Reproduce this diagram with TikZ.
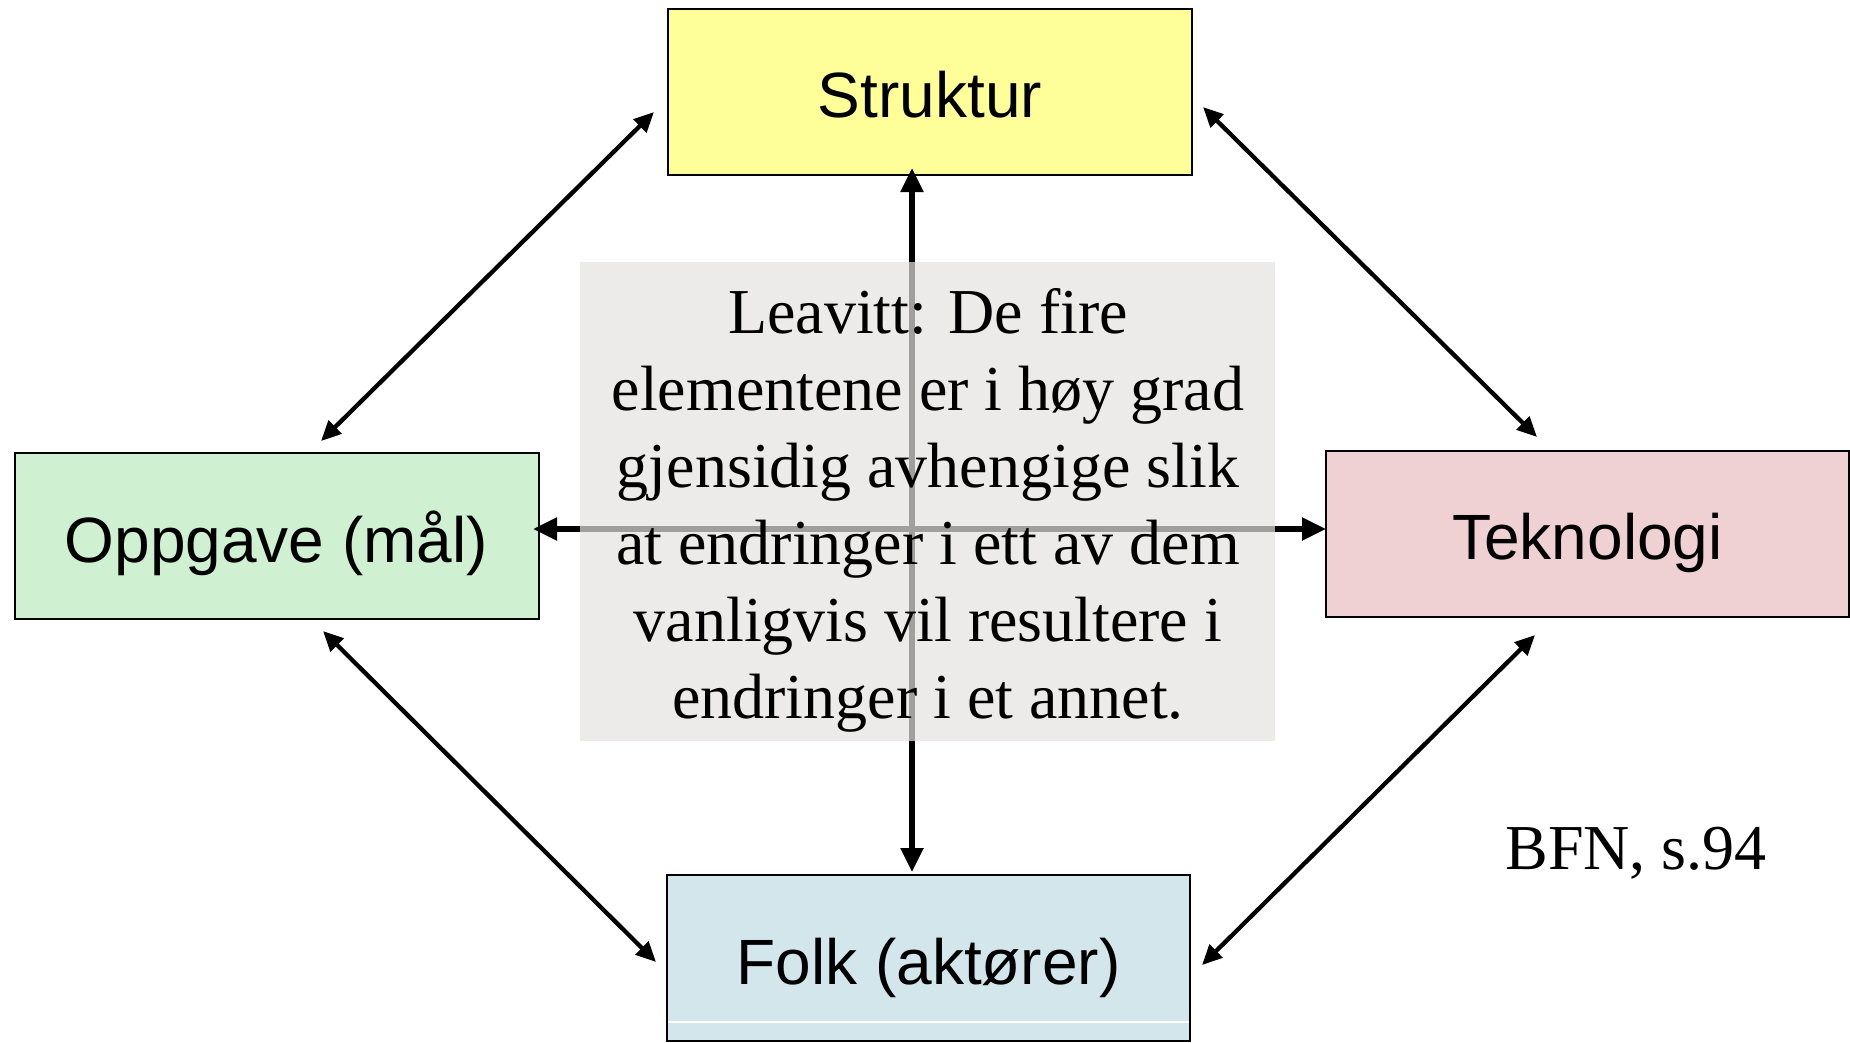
\documentclass[tikz,border=0pt]{standalone}
\usepackage{fontspec}
\setmainfont{Liberation Serif}
\newfontfamily\arialf{Liberation Sans}
\usetikzlibrary{arrows.meta}
\definecolor{cyel}{HTML}{FFFF99}
\definecolor{cgreen}{HTML}{D0F0D2}
\definecolor{cpink}{HTML}{EFD1D4}
\definecolor{cblue}{HTML}{D2E6EC}
\definecolor{cgray}{HTML}{E6E3E0}
\newcommand{\boxlabel}[1]{\raisebox{-26pt}[0pt][0pt]{#1}}
\begin{document}
\begin{tikzpicture}[x=1pt,y=-1pt,
  elbox/.style={draw=black, line width=2pt, minimum width=524pt, minimum height=166pt, inner sep=0pt,
    font=\arialf\fontsize{64}{77}\selectfont},
  bigarrow/.style={line width=5.5pt, {Triangle[length=24pt,width=22pt]}-{Triangle[length=24pt,width=22pt]}},
  diagarrow/.style={line width=4.3pt, {Triangle[length=20pt,width=18pt]}-{Triangle[length=20pt,width=18pt]}},
  centerbox/.style={fill=cgray, fill opacity=0.7, draw=none},
  serifbig/.style={font=\fontsize{64}{77}\selectfont, align=center, inner sep=0pt}
]
\path[use as bounding box, fill=white] (0,0) rectangle (1850,1042);

\node[elbox, fill=cyel] (str) at (930,91.5) {\boxlabel{Struktur}};
\node[elbox, fill=cgreen] (opp) at (276.5,536) {\boxlabel{Oppgave (mål)}};
\node[elbox, fill=cpink, minimum width=523pt] (tek) at (1587.5,533.5) {\boxlabel{Teknologi}};
\node[elbox, fill=cblue, minimum width=523pt] (folk) at (928.5,958) {\boxlabel{Folk (aktører)}};
\draw[white, line width=1.5pt] ([xshift=2pt,yshift=-64pt]folk.center -| folk.west) -- ([xshift=-2pt,yshift=-64pt]folk.center -| folk.east);

% arrow end points
\coordinate (vt) at (912,168);
\coordinate (vb) at (912,872);
\coordinate (hl) at (533,529);
\coordinate (hr) at (1326,529);
\coordinate (os) at (321,441);
\coordinate (so) at (654,112);
\coordinate (st) at (1203,107);
\coordinate (ts) at (1537,437);
\coordinate (of) at (323,631);
\coordinate (fo) at (656,962);
\coordinate (tf) at (1535,635);
\coordinate (ft) at (1202,965);

\draw[bigarrow] (vt) -- (vb);
\draw[bigarrow] (hl) -- (hr);
\draw[diagarrow] (os) -- (so);
\draw[diagarrow] (st) -- (ts);
\draw[diagarrow] (of) -- (fo);
\draw[diagarrow] (tf) -- (ft);

\node[centerbox, minimum width=695pt, minimum height=479pt, inner sep=0pt] (cbox) at (927.5,501.5) {};
\node[serifbig] (ctext) at (928,510) {Leavitt: De fire\\elementene er i høy grad\\gjensidig avhengige slik\\at endringer i ett av dem\\vanligvis vil resultere i\\endringer i et annet.};

\node[font=\fontsize{64}{77}\selectfont, inner sep=0pt] (bfn) at (1636,853) {BFN, s.94};
\end{tikzpicture}
\end{document}
